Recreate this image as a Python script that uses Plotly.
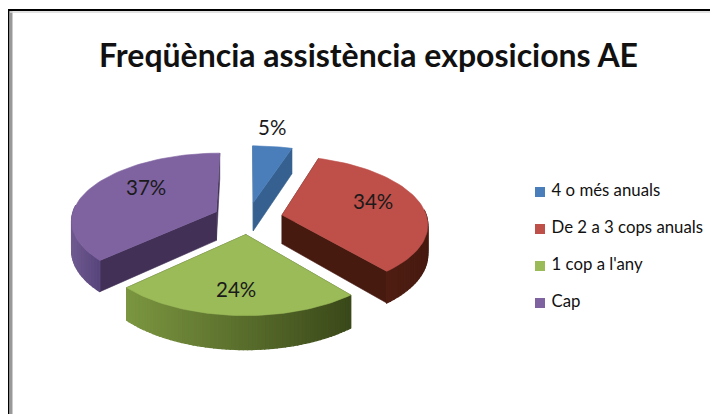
import numpy as np
import plotly.graph_objects as go

# Data
categories = ["4 o més anuals", "De 2 a 3 cops anuals", "1 cop a l'any", "Cap"]
shares = [5, 34, 24, 37]
title_text = "Freqüència assistència exposicions AE"

# Colours per slice
top_colors = ["#4a7ebb", "#be4f49", "#9bbb59", "#7f63a1"]
cut_colors = ["#35608f", "#471a10", "#3b4a1a", "#423056"]
wall_left = ["#35608f", "#4f1d12", "#7b9640", "#6f5a90"]
wall_right = ["#35608f", "#471a10", "#3a4819", "#57447a"]

# Label placement per slice
label_radius = [1.4, 0.62, 0.62, 0.6]
label_xshift = [-7, 5, -3, 5]
label_yshift = [0, -6, 7, -10]

# Projection of the tilted disc onto the pixel axes
CX, CY = 248, 218
RX, RY = 145, 67
PERSP = 0.12
DEPTH = 29
EXPLODE = 0.24
FONT = "Lato, 'Open Sans', sans-serif"
# The page has an 8px body margin, the axes start there
PAGE_MARGIN = 8


def project(r, theta, mid, lift=0):
    u = r * np.sin(theta) + EXPLODE * np.sin(mid)
    v = r * np.cos(theta) + EXPLODE * np.cos(mid)
    s = 1 / (1 + PERSP * v)
    return CX + RX * u * s, CY - RY * v * s + lift * s


def hex_mix(a, b, t):
    ca = [int(a[i:i + 2], 16) for i in (1, 3, 5)]
    cb = [int(b[i:i + 2], 16) for i in (1, 3, 5)]
    return "rgb(%d,%d,%d)" % tuple(round(x + (y - x) * t) for x, y in zip(ca, cb))


def poly(fig, xs, ys, color, width=0.6):
    fig.add_trace(go.Scatter(
        x=list(xs), y=list(ys), mode="lines", fill="toself", fillcolor=color,
        line=dict(color=color, width=width), hoverinfo="skip", showlegend=False,
    ))


fig = go.Figure()

bounds = np.cumsum([0] + shares) / sum(shares) * 2 * np.pi
for i in range(len(shares)):
    a0, a1 = bounds[i], bounds[i + 1]
    mid = (a0 + a1) / 2
    arc = np.linspace(a0, a1, 61)

    # Cut faces
    for a in (a0, a1):
        p0 = project(0, a, mid)
        p1 = project(1, a, mid)
        p2 = project(1, a, mid, DEPTH)
        p3 = project(0, a, mid, DEPTH)
        poly(fig, [p0[0], p1[0], p2[0], p3[0], p0[0]],
             [p0[1], p1[1], p2[1], p3[1], p0[1]], cut_colors[i])

    # Outer wall, one quad per arc step for the gradient
    front = [a for a in arc if np.cos(a) < 0.1]
    if len(front) > 1:
        xs_all = [project(1, a, mid)[0] for a in front]
        lo, hi = min(xs_all), max(xs_all)
        for a, b in zip(front[:-1], front[1:]):
            p0 = project(1, a, mid)
            p1 = project(1, b, mid)
            p2 = project(1, b, mid, DEPTH)
            p3 = project(1, a, mid, DEPTH)
            t = ((p0[0] + p1[0]) / 2 - lo) / (hi - lo)
            poly(fig, [p0[0], p1[0], p2[0], p3[0], p0[0]],
                 [p0[1], p1[1], p2[1], p3[1], p0[1]],
                 hex_mix(wall_left[i], wall_right[i], t), width=1.2)

    # Top face
    px, py = project(1, arc, mid)
    ax, ay = project(0, a0, mid)
    poly(fig, [ax, *px, ax], [ay, *py, ay], top_colors[i])

# Data labels
for i, share in enumerate(shares):
    mid = (bounds[i] + bounds[i + 1]) / 2
    lx, ly = project(label_radius[i], mid, mid)
    fig.add_annotation(x=lx, y=ly, text=f"{share}%", showarrow=False,
                       xshift=label_xshift[i], yshift=-label_yshift[i],
                       font=dict(family=FONT, size=20.5, color="#1a1a1a"))

# Legend column
LEG_X, LEG_Y, LEG_STEP = 540, 192, 37
fig.add_trace(go.Scatter(
    x=[LEG_X] * len(categories),
    y=[LEG_Y + LEG_STEP * i for i in range(len(categories))],
    mode="markers+text",
    marker=dict(symbol="square", size=10, color=top_colors),
    text=[" " + c for c in categories],
    textposition="middle right",
    textfont=dict(family=FONT, size=16.8, color="#111111"),
    hoverinfo="skip", showlegend=False, cliponaxis=False,
))

# Frame of the screenshot
shapes = [
    dict(type="line", x0=8, x1=8, y0=9, y1=414, line=dict(color="#000000", width=3)),
    dict(type="line", x0=8, x1=718, y0=10, y1=10, line=dict(color="#000000", width=2)),
    dict(type="line", x0=11, x1=11, y0=11, y1=414, line=dict(color="#999999", width=3)),
    dict(type="line", x0=10, x1=718, y0=12, y1=12, line=dict(color="#d8d8d8", width=1.5)),
]
fig.update_layout(
    width=718 - PAGE_MARGIN, height=414 - PAGE_MARGIN,
    margin=dict(l=0, r=0, t=0, b=0),
    paper_bgcolor="white", plot_bgcolor="white",
    showlegend=False, shapes=shapes,
    xaxis=dict(range=[PAGE_MARGIN, 718], visible=False, fixedrange=True),
    yaxis=dict(range=[414, PAGE_MARGIN], visible=False, fixedrange=True),
    annotations=list(fig.layout.annotations) + [dict(
        x=368, y=54, text=f"<b>{title_text}</b>", showarrow=False,
        font=dict(family=FONT, size=32, color="#111111"),
    )],
)

fig.write_html("out.html")
